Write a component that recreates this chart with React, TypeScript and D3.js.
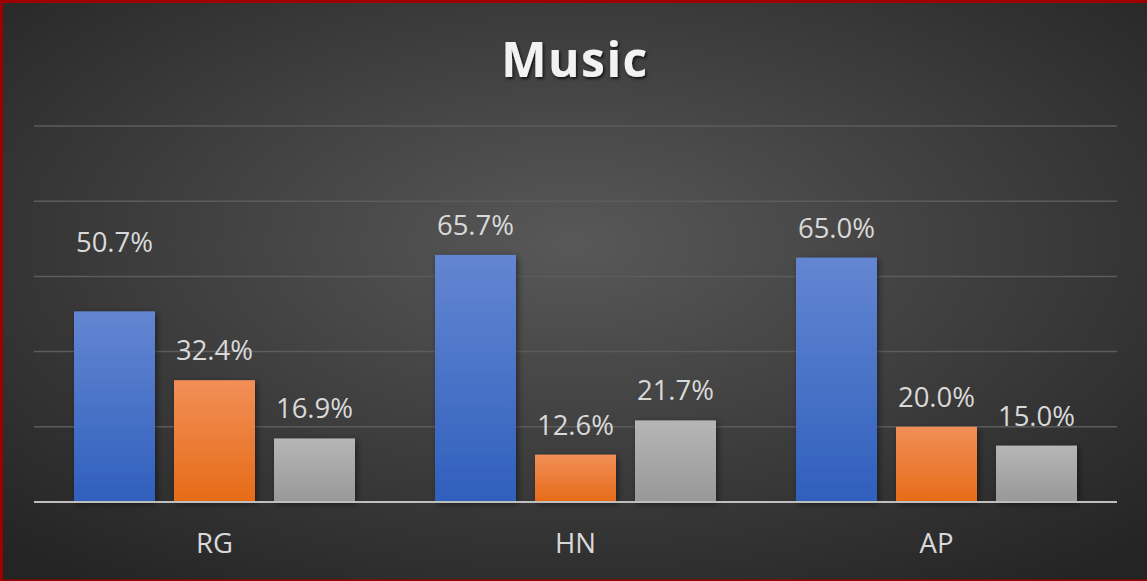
import React, { useEffect } from "react";
import * as d3 from "d3";

const categories = ["RG", "HN", "AP"];
const seriesNames = ["Series1", "Series2", "Series3"];
const blueValues = [50.7, 65.7, 65.0];
const orangeValues = [32.4, 12.6, 20.0];
const greyValues = [16.9, 21.7, 15.0];
const yTicks = [0, 20, 40, 60, 80, 100];
const title = "Music";

const W = 1147;
const H = 581;
const plotLeft = 34;
const plotRight = 1117;
const plotTop = 126;
const plotBottom = 502;

const gradients = [
  { id: "gBlue", top: "#6486d2", bottom: "#2f5fbc" },
  { id: "gOrange", top: "#f18f58", bottom: "#e76b17" },
  { id: "gGrey", top: "#b6b6b6", bottom: "#989898" },
];

// manually dragged label (as in the reference)
const labelShift: Record<string, number> = { "0-0": -39 };

export default function App() {
  useEffect(() => {
    document.body.style.margin = "0";
  }, []);

  const x0 = d3.scaleBand<string>().domain(categories).range([plotLeft, plotRight]).padding(0);
  const x1 = d3
    .scaleBand<string>()
    .domain(seriesNames)
    .range([0, x0.bandwidth()])
    .paddingInner(0.19)
    .paddingOuter(0.4);
  const y = d3.scaleLinear().domain([0, 100]).range([plotBottom, plotTop]);
  const series = [blueValues, orangeValues, greyValues];
  const fmt = (v: number) => d3.format(".1f")(v) + "%";

  return (
    <svg width={W} height={H} style={{ position: "absolute", left: 0, top: 0, display: "block" }}>
      <defs>
        <radialGradient id="bg" cx="50%" cy="42%" r="72%" fx="50%" fy="42%">
          <stop offset="0%" stopColor="#585858" />
          <stop offset="100%" stopColor="#242424" />
        </radialGradient>
        {gradients.map((g) => (
          <linearGradient key={g.id} id={g.id} x1="0" y1="0" x2="0" y2="1">
            <stop offset="0%" stopColor={g.top} />
            <stop offset="100%" stopColor={g.bottom} />
          </linearGradient>
        ))}
        <filter id="barShadow" x="-20%" y="-20%" width="140%" height="140%">
          <feDropShadow dx="2" dy="2" stdDeviation="3" floodColor="#000" floodOpacity="0.45" />
        </filter>
        <filter id="titleShadow" x="-20%" y="-40%" width="140%" height="180%">
          <feDropShadow dx="1.5" dy="2" stdDeviation="1.5" floodColor="#000" floodOpacity="0.7" />
        </filter>
      </defs>
      <rect x={0} y={0} width={W} height={H} fill="url(#bg)" />

      {yTicks.slice(1).map((t) => (
        <line
          key={t}
          x1={plotLeft}
          x2={plotRight}
          y1={y(t)}
          y2={y(t)}
          stroke="#5c5c5c"
          strokeWidth={1.5}
        />
      ))}

      {categories.map((c, ci) => (
        <g key={c}>
          {series.map((vals, si) => {
            const bx = (x0(c) as number) + (x1(seriesNames[si]) as number);
            const bw = x1.bandwidth();
            const top = y(vals[ci]);
            return (
              <rect
                key={si}
                x={bx}
                y={top}
                width={bw}
                height={plotBottom - top}
                fill={`url(#${gradients[si].id})`}
                filter="url(#barShadow)"
              />
            );
          })}
        </g>
      ))}

      <line x1={plotLeft} x2={plotRight} y1={plotBottom} y2={plotBottom} stroke="#bfbfbf" strokeWidth={2} />

      {categories.map((c, ci) =>
        series.map((vals, si) => {
          const bx = (x0(c) as number) + (x1(seriesNames[si]) as number) + x1.bandwidth() / 2;
          const shift = labelShift[`${ci}-${si}`] || 0;
          return (
            <text
              key={`${ci}-${si}`}
              x={bx}
              y={y(vals[ci]) - 20 + shift}
              textAnchor="middle"
              fontFamily="'Open Sans', sans-serif"
              fontSize={27.5}
              fill="#d9d9d9"
            >
              {fmt(vals[ci])}
            </text>
          );
        })
      )}

      {categories.map((c) => (
        <text
          key={c}
          x={(x0(c) as number) + x0.bandwidth() / 2}
          y={553}
          textAnchor="middle"
          fontFamily="'Open Sans', sans-serif"
          fontSize={27.5}
          fill="#d9d9d9"
        >
          {c}
        </text>
      ))}

      <text
        x={575}
        y={77}
        textAnchor="middle"
        fontFamily="'Open Sans', sans-serif"
        fontWeight="bold"
        fontSize={48}
        letterSpacing={1.5}
        fill="#f2f2f2"
        filter="url(#titleShadow)"
      >
        {title}
      </text>

      <rect x={0} y={0} width={W} height={3} fill="#9e0000" />
      <rect x={0} y={0} width={3} height={H} fill="#9e0000" />
      <rect x={0} y={H - 1.5} width={W} height={1.5} fill="#9e0000" />
    </svg>
  );
}
